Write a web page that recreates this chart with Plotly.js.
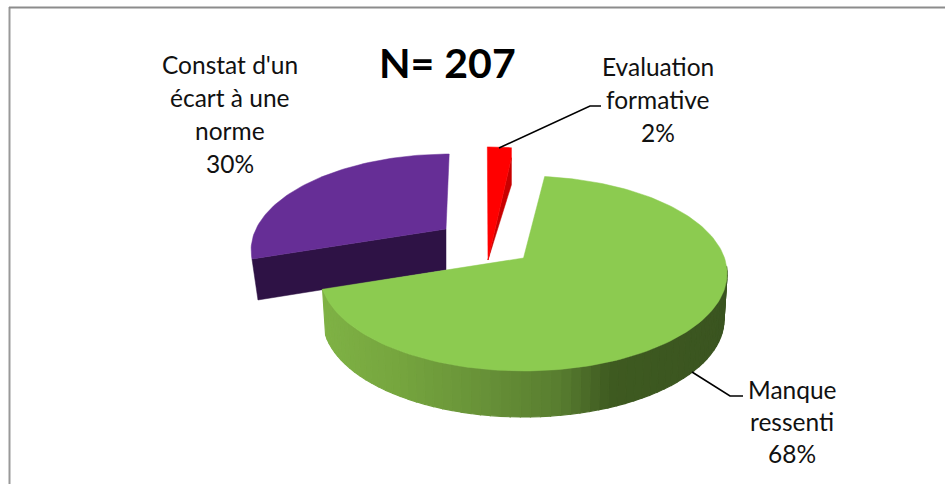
<!DOCTYPE html>
<html><head><meta charset="utf-8">
<script src="https://cdn.plot.ly/plotly-3.0.1.min.js"></script>
<style>html,body{margin:0;padding:0;background:#fff}#c{width:945px;height:484px}</style>
</head><body><div id="c"></div>
<script>
// DATA
const categories = ["Manque ressenti", "Constat d'un écart à une norme", "Evaluation formative"];
const shares = [68, 30, 2];
const labelLines = [["Manque","ressenti","68%"],["Constat d'un","écart à une","norme","30%"],["Evaluation","formative","2%"]];
const chartTitle = "N= 207";
const firstSliceAngle = 7;

// STYLE / PROJECTION
const topColors = ["#8CCB50","#662E96","#FF0000"];
const sideColors = ["#6a9338","#2E1245","#C80000"];
const proj = [
 {cx:523.5,cy:258,A:201,B:95,p:.159,s:0,depth:46,apexDepth:46,lip:0,k:.985},
 {cx:446,cy:229,A:190,B:90,p:.2,s:4.5,depth:41,apexDepth:41,lip:0,k:1},
 {cx:488,cy:260,A:198,B:116.5,p:.03,s:0,depth:27,apexDepth:0,lip:10,k:1}
];
const greenStops=[[320,[127,178,69]],[400,[117,165,62]],[480,[104,146,56]],[560,[88,125,48]],[610,[62,90,32]],[730,[58,84,32]]];
function greenAt(x){for(let i=1;i<greenStops.length;i++){const a=greenStops[i-1],b=greenStops[i];if(x<=b[0]){const t=Math.max(0,(x-a[0])/(b[0]-a[0]));return 'rgb('+a[1].map((c,j)=>Math.round(c+(b[1][j]-c)*t)).join(',')+')';}}return 'rgb(58,84,32)';}

function pt(P,deg,scale){const t=deg*Math.PI/180,u=Math.sin(t),v=Math.cos(t),w=1+P.p*v;const k=scale||1;
 return [P.cx+(k*P.A*u+P.s*v)/w,P.cy-P.B*v/w];}
function range(a,b,n){const o=[];for(let i=0;i<=n;i++)o.push(a+(b-a)*i/n);return o;}
function poly(xs,ys,color,lw){return {type:'scatter',mode:'lines',x:xs.concat(xs[0]),y:ys.concat(ys[0]),fill:'toself',fillcolor:color,line:{color:color,width:lw||.5},hoverinfo:'skip',showlegend:false};}

// slices from values
let start=firstSliceAngle;const slices=shares.map(v=>{const a=start,b=start+v*3.6;start=b;return [a,b];});
const traces=[];
function wedge(i){
 const P=proj[i],[a,b]=slices[i];
 const arc=range(a,b,80).map(d=>pt(P,d));
 return {P,arc,a,b};
}
// Purple inner side + top
{const {P,arc}=wedge(1);
 const first=arc[0];
 traces.push(poly([P.cx,P.cx,first[0]+6,first[0]],[P.cy,P.cy+P.depth,first[1]+P.depth,first[1]],sideColors[1]));
 traces.push(poly([P.cx].concat(arc.map(q=>q[0])),[P.cy].concat(arc.map(q=>q[1])),topColors[1]));
}
// Red
{const {P,arc}=wedge(2);const last=arc[arc.length-1];
 traces.push(poly([P.cx,last[0],last[0]],[P.cy+P.apexDepth,last[1]+P.lip,last[1]+P.lip+P.depth],sideColors[2]));
 traces.push(poly([P.cx].concat(arc.map(q=>q[0]),[last[0]]),[P.cy].concat(arc.map(q=>q[1]),[last[1]+P.lip]),topColors[2]));
}
// Green rim segments, shaded
{const P=proj[0],[a,b]=slices[0];const ds=range(95,b,64);
 for(let i=0;i<ds.length-1;i++){
  const q1=pt(P,ds[i]),q2=pt(P,ds[i+1]),r1=pt(P,ds[i],P.k),r2=pt(P,ds[i+1],P.k);
  traces.push(poly([q1[0],q2[0],r2[0],r1[0]],[q1[1],q2[1],r2[1]+P.depth,r1[1]+P.depth],greenAt((q1[0]+q2[0])/2),1.2));
 }
 const arc=range(a,b,160).map(d=>pt(P,d));
 traces.push(poly([P.cx].concat(arc.map(q=>q[0])),[P.cy].concat(arc.map(q=>q[1])),topColors[0]));
}
// leader lines
const leader=(x,y)=>({type:'scatter',mode:'lines',x,y,line:{color:'#000',width:1.6},hoverinfo:'skip',showlegend:false});
traces.push(leader([499,590,601],[148,106,106]));
traces.push(leader([692,730,743],[372,396,396]));

const font={family:'Lato, sans-serif',size:24.5,color:'#111'};
const labelPos=[{x:792,y:[389,421,453]},{x:230,y:[64,97,130,163]},{x:658,y:[66,99,132]}];
const annotations=[];
labelLines.forEach((ls,i)=>ls.forEach((t,j)=>annotations.push({xref:'x',yref:'y',x:labelPos[i].x,y:labelPos[i].y[j],text:t,showarrow:false,font,xanchor:'center',yanchor:'middle'})));
annotations.push({xref:'x',yref:'y',x:447,y:62,text:'<b>'+chartTitle+'</b>',showarrow:false,font:{family:'Lato, sans-serif',size:41,color:'#000'},xanchor:'center',yanchor:'middle'});

const layout={width:945,height:484,margin:{l:0,r:0,t:0,b:0},paper_bgcolor:'#fff',plot_bgcolor:'#fff',showlegend:false,
 xaxis:{range:[0,945],visible:false,fixedrange:true},yaxis:{range:[484,0],visible:false,fixedrange:true},annotations,
 shapes:[{type:'line',xref:'x',yref:'y',x0:9.5,x1:9.5,y0:7,y1:484,line:{color:'#999',width:2}},
 {type:'line',xref:'x',yref:'y',x0:9,x1:945,y0:7.5,y1:7.5,line:{color:'#8c8c8c',width:2}}]};
Plotly.newPlot('c',traces,layout,{displayModeBar:false,staticPlot:true});
</script></body></html>
